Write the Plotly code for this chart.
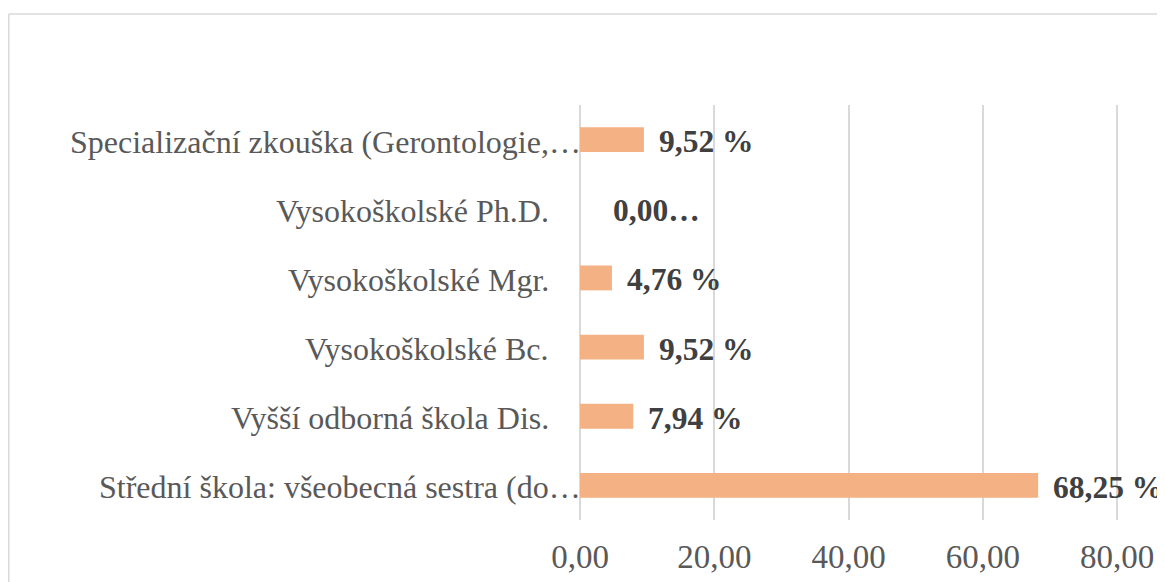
import plotly.graph_objects as go

# Data (bottom to top, as drawn)
categories = [
    "Střední škola: všeobecná sestra (do…",
    "Vyšší odborná škola Dis.",
    "Vysokoškolské Bc.",
    "Vysokoškolské Mgr.",
    "Vysokoškolské Ph.D.",
    "Specializační zkouška (Gerontologie,…",
]
values = [68.25, 7.94, 9.52, 4.76, 0.00, 9.52]
value_labels = ["68,25 %", "7,94 %", "9,52 %", "4,76 %", "0,00…", "9,52 %"]
tick_vals = [0, 20, 40, 60, 80]
tick_text = ["0,00", "20,00", "40,00", "60,00", "80,00"]

# page body adds an 8px offset, so the figure is sized to fill the rest
W, H = 1157, 574
ML, MR, MT, MB = 572, 0, 97, 62
BAR_COLOR = "#F4B183"
GRID = "#d9d9d9"
FONT = "Liberation Serif, Times New Roman, serif"

fig = go.Figure()
fig.add_trace(go.Bar(
    x=values, y=categories, orientation="h",
    marker=dict(color=BAR_COLOR, line=dict(width=0)),
    hoverinfo="skip",
))

# data labels
for cat, v, lab in zip(categories, values, value_labels):
    fig.add_annotation(
        x=v, y=cat, xref="x", yref="y", text=f"<b>{lab}</b>",
        showarrow=False, xanchor="left", yanchor="middle",
        xshift=13 if v > 0 else 31, yshift=-2,
        font=dict(family=FONT, size=31.5, color="#404040"),
    )

# category labels
for cat in categories:
    trunc = cat.endswith("…")
    fig.add_annotation(
        x=0, y=cat, xref="paper", yref="y", text=cat,
        showarrow=False, xanchor="right", yanchor="middle",
        xshift=3 if trunc else -29, yshift=-2,
        font=dict(family=FONT, size=32, color="#595959"),
    )

plot_w = W - ML - MR
plot_h = H - MT - MB
def px_to_paper_x(px):
    return (px - ML) / plot_w
def px_to_paper_y(py):
    return (H - MB - py) / plot_h

# chart border (left and top visible)
fig.add_shape(type="line", xref="paper", yref="paper",
              x0=px_to_paper_x(0.8), x1=px_to_paper_x(0.8),
              y0=px_to_paper_y(6), y1=px_to_paper_y(H + 5),
              line=dict(color=GRID, width=1.5))
fig.add_shape(type="line", xref="paper", yref="paper",
              x0=px_to_paper_x(0.8), x1=px_to_paper_x(W + 5),
              y0=px_to_paper_y(6), y1=px_to_paper_y(6),
              line=dict(color=GRID, width=1.5))

fig.update_layout(
    width=W, height=H,
    margin=dict(l=ML, r=MR, t=MT, b=MB, pad=0),
    paper_bgcolor="white", plot_bgcolor="white",
    bargap=0.64, showlegend=False,
    font=dict(family=FONT, color="#595959"),
)
fig.update_xaxes(
    range=[0, (W - ML - MR) / ((1117 - 580) / 80)],
    tickvals=tick_vals, ticktext=tick_text,
    showgrid=True, gridcolor=GRID, gridwidth=1.5,
    zeroline=True, zerolinecolor=GRID, zerolinewidth=1.5,
    showline=False, ticks="",
    tickfont=dict(family=FONT, size=33, color="#595959"),
    ticklabelstandoff=14,
    fixedrange=True,
)
fig.update_yaxes(
    categoryorder="array", categoryarray=categories,
    showticklabels=False, showgrid=False, zeroline=False, showline=False,
    ticks="", fixedrange=True,
)

fig.write_html("out.html")
